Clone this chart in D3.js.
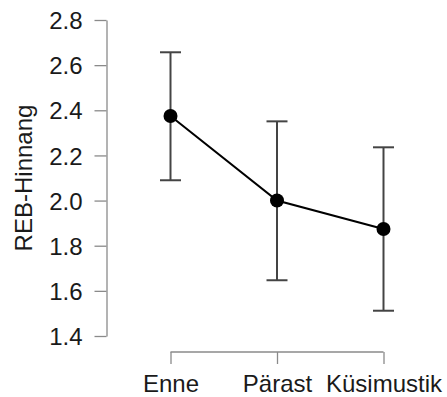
<!DOCTYPE html>
<html>
<head>
<meta charset="utf-8">
<script src="https://cdn.jsdelivr.net/npm/d3@7"></script>
<style>
  body { margin: 0; background: #fff; }
  text { font-family: "Liberation Sans", Arial, sans-serif; fill: #1a1a1a; }
</style>
</head>
<body>
<div id="chart"></div>
<script>
// data
var groups = ["Enne", "Pärast", "Küsimustik"];
var means = [2.375, 2.0, 1.874];
var lower = [2.09, 1.647, 1.512];
var upper = [2.657, 2.351, 2.236];
var yTicks = [1.4, 1.6, 1.8, 2.0, 2.2, 2.4, 2.6, 2.8];

var width = 447, height = 397;
var fontSize = 24;

var svg = d3.select("#chart").append("svg")
    .attr("width", width)
    .attr("height", height);

var x = d3.scalePoint()
    .domain(groups)
    .range([170.5, 383.5]);

var y = d3.scaleLinear()
    .domain([1.4, 2.8])
    .range([336, 20]);

// y axis
var yAxis = svg.append("g")
    .attr("transform", "translate(106.5,0)")
    .call(d3.axisLeft(y).tickValues(yTicks).tickFormat(d3.format(".1f")).tickSize(12).tickSizeOuter(0));
yAxis.select(".domain").attr("stroke", "#8a8a8a").attr("stroke-width", 1.3);
yAxis.selectAll(".tick line").attr("stroke", "#8a8a8a").attr("stroke-width", 1.3);
yAxis.selectAll(".tick text")
    .attr("x", -24)
    .attr("dy", "0.36em")
    .style("font-size", fontSize + "px")
    .style("font-family", "Liberation Sans, Arial, sans-serif")
    .attr("fill", "#1a1a1a");

// x axis
var xAxis = svg.append("g")
    .attr("transform", "translate(0,352)")
    .call(d3.axisBottom(x).tickSize(-12).tickSizeOuter(0));
xAxis.select(".domain")
    .attr("d", "M" + x.range()[0] + ",0H" + x.range()[1])
    .attr("stroke", "#8a8a8a").attr("stroke-width", 1.3);
xAxis.selectAll(".tick line").attr("y2", 12).attr("stroke", "#8a8a8a").attr("stroke-width", 1.3);
xAxis.selectAll(".tick text")
    .attr("y", 40)
    .attr("dy", 0)
    .style("font-size", fontSize + "px")
    .style("font-family", "Liberation Sans, Arial, sans-serif")
    .attr("fill", "#1a1a1a");

// y label
svg.append("text")
    .attr("transform", "translate(32," + ((y(1.4) + y(2.8)) / 2) + ") rotate(-90)")
    .attr("text-anchor", "middle")
    .style("font-size", fontSize + "px")
    .text("REB-Hinnang");

var rows = groups.map(function(g, i) {
    return { g: g, m: means[i], lo: lower[i], hi: upper[i] };
});

// error bars
var eb = svg.append("g")
    .attr("stroke", "#444")
    .attr("stroke-width", 2);
eb.selectAll(".v").data(rows).enter().append("line")
    .attr("x1", function(d) { return x(d.g); })
    .attr("x2", function(d) { return x(d.g); })
    .attr("y1", function(d) { return y(d.lo); })
    .attr("y2", function(d) { return y(d.hi); });
eb.selectAll(".t").data(rows).enter().append("line")
    .attr("x1", function(d) { return x(d.g) - 10.5; })
    .attr("x2", function(d) { return x(d.g) + 10.5; })
    .attr("y1", function(d) { return y(d.hi); })
    .attr("y2", function(d) { return y(d.hi); });
eb.selectAll(".b").data(rows).enter().append("line")
    .attr("x1", function(d) { return x(d.g) - 10.5; })
    .attr("x2", function(d) { return x(d.g) + 10.5; })
    .attr("y1", function(d) { return y(d.lo); })
    .attr("y2", function(d) { return y(d.lo); });

// mean line
svg.append("path")
    .datum(rows)
    .attr("fill", "none")
    .attr("stroke", "#000")
    .attr("stroke-width", 2)
    .attr("d", d3.line()
        .x(function(d) { return x(d.g); })
        .y(function(d) { return y(d.m); }));

svg.selectAll(".pt").data(rows).enter().append("circle")
    .attr("cx", function(d) { return x(d.g); })
    .attr("cy", function(d) { return y(d.m); })
    .attr("r", 7)
    .attr("fill", "#000");
</script>
</body>
</html>
